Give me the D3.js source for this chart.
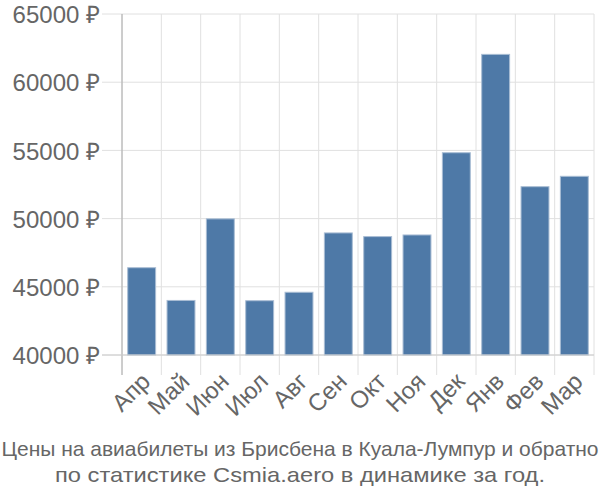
<!DOCTYPE html>
<html><head><meta charset="utf-8">
<script src="https://cdn.jsdelivr.net/npm/d3@7/dist/d3.min.js"></script>
<style>body{margin:0;background:#fff}svg{display:block}</style>
</head><body>
<svg id="c" width="600" height="500"></svg>
<script>
const categories = ["Апр","Май","Июн","Июл","Авг","Сен","Окт","Ноя","Дек","Янв","Фев","Мар"];
const values = [46400, 44000, 49980, 43980, 44600, 48950, 48680, 48800, 54830, 62040, 52340, 53100];
const yTicks = [40000, 45000, 50000, 55000, 60000, 65000];
const titleLines = ["Цены на авиабилеты из Брисбена в Куала-Лумпур и обратно", "по статистике Csmia.aero в динамике за год."];

const svg = d3.select("#c");
const L = 122, R = 594, T = 14, B = 355;
const x = d3.scaleBand().domain(categories).range([L, R]).paddingInner(0.29).paddingOuter(0.145);
const xg = d3.scaleBand().domain(categories).range([L, R]);
const y = d3.scaleLinear().domain([40000, 65000]).range([B, T]);

// horizontal gridlines
svg.append("g").selectAll("line").data(yTicks).join("line")
  .attr("x1", 102).attr("x2", R).attr("y1", d => y(d)).attr("y2", d => y(d))
  .attr("stroke", "#e0e0e0").attr("stroke-width", 1);
// vertical gridlines
const vx = categories.map(c => xg(c)).concat([R]);
svg.append("g").selectAll("line").data(vx).join("line")
  .attr("x1", d => d).attr("x2", d => d).attr("y1", T).attr("y2", B + 20)
  .attr("stroke", "#e0e0e0").attr("stroke-width", 1);

// bars
svg.append("g").selectAll("rect").data(values).join("rect")
  .attr("x", (d, i) => x(categories[i]))
  .attr("width", x.bandwidth())
  .attr("y", d => y(d))
  .attr("height", d => B - y(d))
  .attr("fill", "#4e79a7")
  .attr("stroke", "#a9bdd4").attr("stroke-width", 1);

// axes lines
svg.append("line").attr("x1", L).attr("x2", L).attr("y1", T).attr("y2", B + 20).attr("stroke", "#aaaaaa").attr("stroke-width", 1);
svg.append("line").attr("x1", 102).attr("x2", R).attr("y1", B).attr("y2", B).attr("stroke", "#cccccc").attr("stroke-width", 1);

// y labels
svg.append("g").selectAll("text").data(yTicks).join("text")
  .attr("x", 100).attr("y", d => y(d)).attr("dy", "0.38em")
  .attr("text-anchor", "end")
  .attr("font-family", "'Liberation Sans', Arial, sans-serif").attr("font-size", 24)
  .attr("fill", "#666").text(d => d + " ₽");

// x labels
svg.append("g").selectAll("text").data(categories).join("text")
  .attr("transform", d => `translate(${xg(d) + xg.bandwidth() / 2 + 4},${B + 22}) rotate(-45)`)
  .attr("text-anchor", "end").attr("dy", "0.35em")
  .attr("font-family", "'Liberation Sans', Arial, sans-serif").attr("font-size", 24)
  .attr("fill", "#666").text(d => d);

// title
const title = svg.append("g").selectAll("text").data(titleLines).join("text")
  .attr("x", 300).attr("y", (d, i) => 456 + i * 26)
  .attr("text-anchor", "middle")
  .attr("font-family", "'Liberation Sans Narrow', 'Arial Narrow', sans-serif").attr("font-size", 21)
  .attr("fill", "#666").text(d => d);
title.filter((d, i) => i === 1).attr("textLength", 490).attr("lengthAdjust", "spacingAndGlyphs");
</script>
</body></html>
